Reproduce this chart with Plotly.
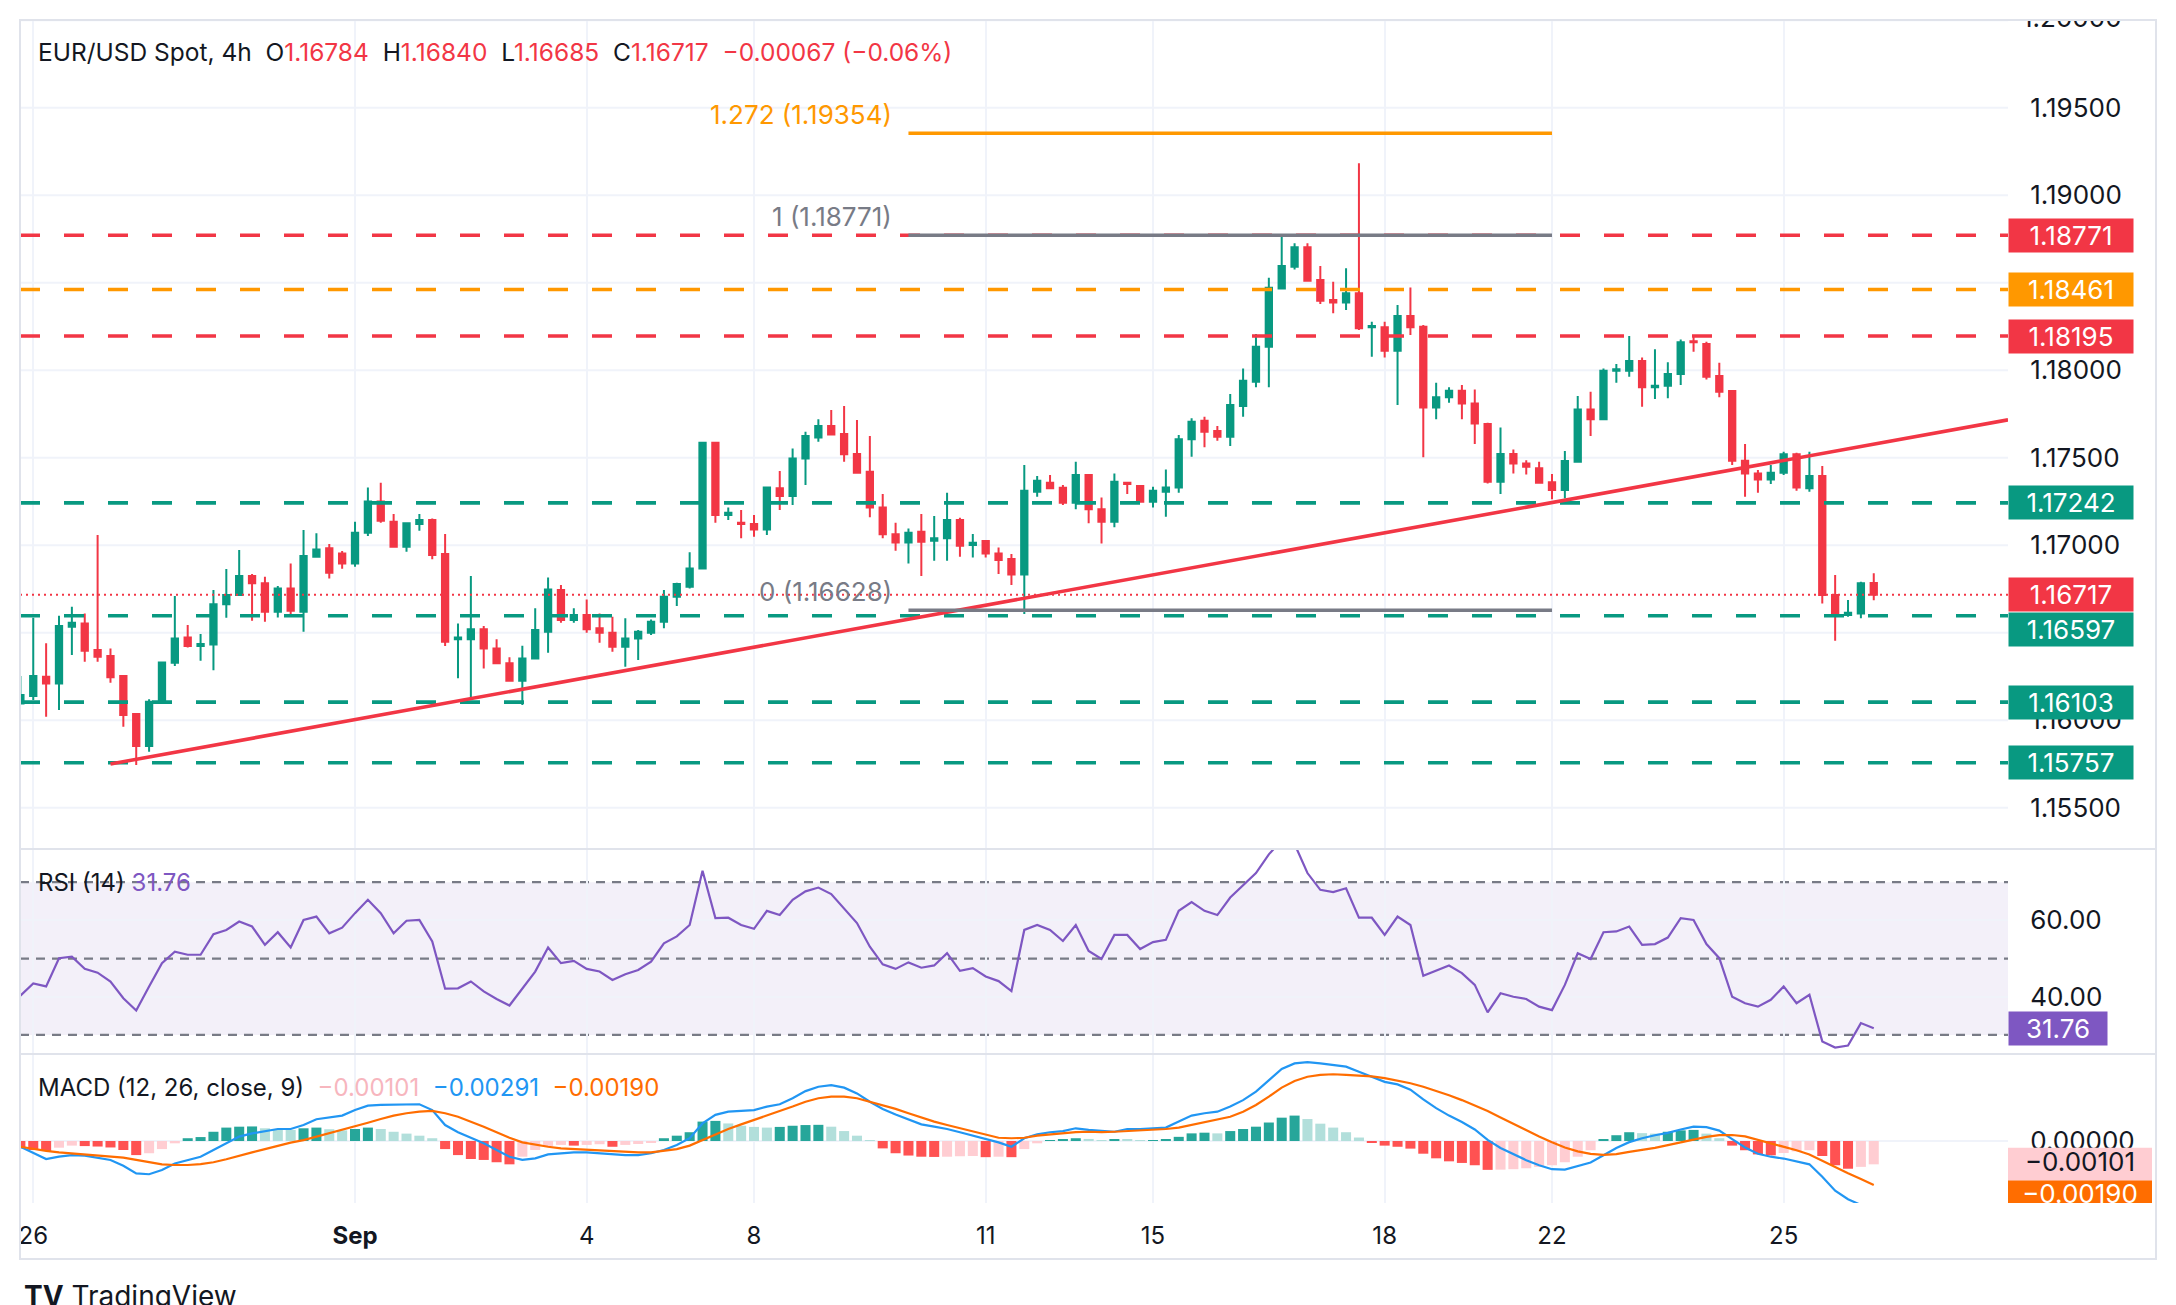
import plotly.graph_objects as go
from datetime import datetime, timedelta

# ----------------------------------------------------------------- data
# EUR/USD 4h candles, first bar = 2025-08-25 20:00
opens = [1.16096, 1.16138, 1.16248, 1.16210, 1.16534, 1.16553, 1.16401, 1.16367, 1.16252, 1.16035,
         1.15852, 1.16100, 1.16328, 1.16473, 1.16424, 1.16433, 1.16662, 1.16715, 1.16824, 1.16782,
         1.16620, 1.16753, 1.16620, 1.16934, 1.16982, 1.16953, 1.16896, 1.17071, 1.17249, 1.17134,
         1.16991, 1.17121, 1.17144, 1.16949, 1.16462, 1.16462, 1.16519, 1.16410, 1.16325, 1.16226,
         1.16353, 1.16506, 1.16744, 1.16572, 1.16601, 1.16525, 1.16500, 1.16420, 1.16467, 1.16500,
         1.16563, 1.16706, 1.16763, 1.16867, 1.17586, 1.17172, 1.17128, 1.17121, 1.17090, 1.17325,
         1.17281, 1.17496, 1.17616, 1.17681, 1.17635, 1.17521, 1.17420, 1.17216, 1.17062, 1.17016,
         1.17077, 1.17026, 1.17039, 1.17144, 1.17001, 1.17024, 1.16953, 1.16921, 1.16833, 1.17306,
         1.17357, 1.17328, 1.17243, 1.17401, 1.17205, 1.17134, 1.17357, 1.17338, 1.17248, 1.17306,
         1.17330, 1.17605, 1.17711, 1.17652, 1.17620, 1.17795, 1.17934, 1.18134, 1.18467, 1.18591,
         1.18702, 1.18515, 1.18401, 1.18387, 1.18439, 1.18245, 1.18245, 1.18111, 1.18309, 1.18248,
         1.17787, 1.17845, 1.17883, 1.17810, 1.17692, 1.17363, 1.17521, 1.17467, 1.17439, 1.17359,
         1.17315, 1.17477, 1.17776, 1.17719, 1.17997, 1.17997, 1.18052, 1.17902, 1.17911, 1.17978,
         1.18166, 1.18149, 1.17967, 1.17881, 1.17483, 1.17410, 1.17376, 1.17414, 1.17519, 1.17325,
         1.17395, 1.16715, 1.16601, 1.16610, 1.16784]
highs = [1.16252, 1.16586, 1.16439, 1.16597, 1.16648, 1.16610, 1.17058, 1.16410, 1.16255, 1.16040,
         1.16119, 1.16335, 1.16709, 1.16544, 1.16492, 1.16744, 1.16864, 1.16972, 1.16835, 1.16820,
         1.16767, 1.16896, 1.17087, 1.17068, 1.17007, 1.16967, 1.17134, 1.17330, 1.17357, 1.17178,
         1.17125, 1.17178, 1.17153, 1.17064, 1.16553, 1.16824, 1.16538, 1.16462, 1.16359, 1.16426,
         1.16639, 1.16816, 1.16772, 1.16639, 1.16690, 1.16610, 1.16591, 1.16582, 1.16515, 1.16576,
         1.16744, 1.16786, 1.16959, 1.17590, 1.17590, 1.17216, 1.17201, 1.17172, 1.17335, 1.17424,
         1.17553, 1.17648, 1.17719, 1.17772, 1.17795, 1.17715, 1.17624, 1.17292, 1.17128, 1.17096,
         1.17178, 1.17167, 1.17300, 1.17157, 1.17064, 1.17028, 1.16987, 1.16949, 1.17458, 1.17395,
         1.17401, 1.17344, 1.17477, 1.17407, 1.17273, 1.17410, 1.17360, 1.17344, 1.17334, 1.17433,
         1.17629, 1.17725, 1.17734, 1.17681, 1.17864, 1.18010, 1.18207, 1.18528, 1.18778, 1.18725,
         1.18725, 1.18595, 1.18505, 1.18582, 1.19182, 1.18277, 1.18277, 1.18372, 1.18473, 1.18258,
         1.17928, 1.17902, 1.17915, 1.17890, 1.17700, 1.17673, 1.17547, 1.17486, 1.17477, 1.17407,
         1.17538, 1.17852, 1.17877, 1.18010, 1.18035, 1.18195, 1.18073, 1.18119, 1.18045, 1.18176,
         1.18201, 1.18163, 1.18043, 1.17885, 1.17578, 1.17429, 1.17458, 1.17534, 1.17528, 1.17534,
         1.17452, 1.16829, 1.16687, 1.16791, 1.16840]
lows = [1.16090, 1.16115, 1.16020, 1.16058, 1.16372, 1.16334, 1.16334, 1.16214, 1.15963, 1.15744,
        1.15820, 1.16095, 1.16309, 1.16416, 1.16340, 1.16286, 1.16586, 1.16710, 1.16568, 1.16563,
        1.16587, 1.16607, 1.16506, 1.16930, 1.16810, 1.16866, 1.16877, 1.17052, 1.17128, 1.16985,
        1.16963, 1.17083, 1.16919, 1.16424, 1.16239, 1.16125, 1.16296, 1.16320, 1.16220, 1.16087,
        1.16350, 1.16386, 1.16557, 1.16557, 1.16500, 1.16443, 1.16391, 1.16306, 1.16344, 1.16487,
        1.16525, 1.16652, 1.16753, 1.16862, 1.17128, 1.17144, 1.17039, 1.17048, 1.17058, 1.17201,
        1.17229, 1.17344, 1.17591, 1.17630, 1.17477, 1.17410, 1.17159, 1.17039, 1.16968, 1.16896,
        1.16824, 1.16911, 1.16911, 1.16934, 1.16930, 1.16930, 1.16835, 1.16772, 1.16607, 1.17277,
        1.17320, 1.17229, 1.17205, 1.17125, 1.17010, 1.17102, 1.17292, 1.17243, 1.17216, 1.17163,
        1.17300, 1.17506, 1.17559, 1.17597, 1.17567, 1.17734, 1.17902, 1.17902, 1.18462, 1.18576,
        1.18505, 1.18378, 1.18325, 1.18344, 1.18229, 1.18077, 1.18073, 1.17801, 1.18201, 1.17502,
        1.17719, 1.17814, 1.17719, 1.17578, 1.17353, 1.17292, 1.17410, 1.17404, 1.17353, 1.17262,
        1.17267, 1.17471, 1.17624, 1.17715, 1.17928, 1.17963, 1.17791, 1.17835, 1.17839, 1.17915,
        1.18106, 1.17947, 1.17845, 1.17458, 1.17277, 1.17300, 1.17349, 1.17401, 1.17311, 1.17306,
        1.16667, 1.16454, 1.16591, 1.16582, 1.16685]
closes = [1.16144, 1.16252, 1.16210, 1.16538, 1.16557, 1.16397, 1.16363, 1.16245, 1.16029, 1.15852,
          1.16106, 1.16330, 1.16467, 1.16424, 1.16435, 1.16662, 1.16715, 1.16824, 1.16782, 1.16620,
          1.16753, 1.16626, 1.16938, 1.16976, 1.16843, 1.16896, 1.17071, 1.17249, 1.17140, 1.16991,
          1.17125, 1.17144, 1.16944, 1.16448, 1.16473, 1.16519, 1.16410, 1.16325, 1.16226, 1.16353,
          1.16515, 1.16747, 1.16572, 1.16601, 1.16519, 1.16500, 1.16420, 1.16467, 1.16506, 1.16563,
          1.16706, 1.16778, 1.16867, 1.17586, 1.17172, 1.17186, 1.17121, 1.17090, 1.17330, 1.17281,
          1.17496, 1.17624, 1.17681, 1.17633, 1.17519, 1.17414, 1.17216, 1.17062, 1.17016, 1.17071,
          1.17020, 1.17039, 1.17144, 1.16997, 1.17014, 1.16953, 1.16915, 1.16833, 1.17311, 1.17368,
          1.17325, 1.17243, 1.17401, 1.17205, 1.17134, 1.17363, 1.17349, 1.17248, 1.17311, 1.17330,
          1.17605, 1.17706, 1.17648, 1.17620, 1.17801, 1.17940, 1.18134, 1.18471, 1.18595, 1.18702,
          1.18511, 1.18397, 1.18387, 1.18439, 1.18239, 1.18252, 1.18111, 1.18309, 1.18245, 1.17787,
          1.17845, 1.17883, 1.17810, 1.17696, 1.17363, 1.17521, 1.17467, 1.17448, 1.17357, 1.17315,
          1.17481, 1.17776, 1.17719, 1.17997, 1.18005, 1.18052, 1.17902, 1.17911, 1.17978, 1.18159,
          1.18159, 1.17963, 1.17877, 1.17483, 1.17410, 1.17376, 1.17414, 1.17519, 1.17330, 1.17395,
          1.16715, 1.16601, 1.16614, 1.16782, 1.16717]

rsi_values = [40.3, 43.5, 42.7, 50.1, 50.5, 47.3, 46.3, 44.0, 39.6, 36.4,
              42.7, 48.8, 51.8, 51.0, 51.0, 56.4, 57.5, 59.7, 58.4, 53.6,
              56.9, 52.9, 60.1, 61.0, 56.6, 58.1, 61.9, 65.4, 61.9, 56.6,
              59.9, 60.1, 54.5, 42.1, 42.2, 44.0, 41.4, 39.4, 37.7, 42.2,
              46.6, 52.9, 48.8, 49.4, 47.3, 46.6, 44.4, 45.9, 47.0, 49.2,
              54.0, 55.8, 58.8, 73.0, 60.6, 60.7, 58.8, 57.8, 62.5, 61.4,
              65.4, 67.6, 68.6, 66.9, 63.2, 59.3, 53.1, 48.5, 47.3, 49.0,
              47.6, 48.2, 51.4, 46.8, 47.5, 45.3, 44.1, 41.5, 57.5, 58.8,
              57.5, 54.6, 58.8, 52.0, 49.9, 56.2, 56.2, 52.5, 54.3, 54.9,
              62.5, 64.8, 62.5, 61.4, 66.0, 69.3, 72.4, 77.3, 81.0, 80.0,
              72.4, 68.0, 67.4, 68.4, 60.7, 60.7, 56.2, 61.0, 58.8, 45.5,
              46.8, 48.2, 46.2, 43.1, 35.9, 40.9, 40.0, 39.4, 37.4, 36.5,
              43.1, 51.4, 49.9, 56.9, 57.1, 58.4, 53.6, 53.8, 55.5, 60.6,
              60.1, 53.8, 50.1, 40.0, 38.3, 37.4, 39.2, 42.7, 38.3, 40.5,
              28.3, 26.7, 27.2, 33.1, 31.76]

macd_values = [-0.00025, -0.00053, -0.00078, -0.00068, -0.00061, -0.00063, -0.00072, -0.00082, -0.00107, -0.00140,
               -0.00144, -0.00126, -0.00097, -0.00082, -0.00068, -0.00039, -0.00010, 0.00019, 0.00033, 0.00043,
               0.00052, 0.00052, 0.00069, 0.00094, 0.00101, 0.00110, 0.00134, 0.00153, 0.00156, 0.00156,
               0.00159, 0.00159, 0.00134, 0.00069, 0.00038, 0.00014, -0.00010, -0.00039, -0.00068, -0.00082,
               -0.00075, -0.00058, -0.00053, -0.00049, -0.00049, -0.00053, -0.00058, -0.00061, -0.00061, -0.00053,
               -0.00039, -0.00017, 0.00012, 0.00076, 0.00113, 0.00127, 0.00130, 0.00134, 0.00149, 0.00159,
               0.00185, 0.00216, 0.00235, 0.00242, 0.00231, 0.00206, 0.00170, 0.00139, 0.00115, 0.00095,
               0.00072, 0.00062, 0.00052, 0.00038, 0.00023, 0.00009, -0.00006, -0.00025, 0.00012, 0.00029,
               0.00038, 0.00043, 0.00055, 0.00048, 0.00043, 0.00040, 0.00052, 0.00051, 0.00055, 0.00058,
               0.00084, 0.00110, 0.00120, 0.00127, 0.00149, 0.00177, 0.00214, 0.00264, 0.00312, 0.00336,
               0.00341, 0.00336, 0.00329, 0.00322, 0.00300, 0.00278, 0.00256, 0.00245, 0.00222, 0.00180,
               0.00142, 0.00110, 0.00082, 0.00050, 0.00005, -0.00030, -0.00058, -0.00083, -0.00105, -0.00122,
               -0.00124, -0.00110, -0.00093, -0.00062, -0.00030, -0.00005, 0.00012, 0.00025, 0.00035, 0.00050,
               0.00062, 0.00060, 0.00045, 0.00008, -0.00028, -0.00055, -0.00068, -0.00076, -0.00088, -0.00101,
               -0.00155, -0.00215, -0.00252, -0.00277, -0.00291]
signal_values = [-0.00025, -0.00035, -0.00043, -0.00049, -0.00053, -0.00058, -0.00061, -0.00065, -0.00072, -0.00082,
                 -0.00092, -0.00101, -0.00104, -0.00104, -0.00100, -0.00092, -0.00079, -0.00063, -0.00049, -0.00035,
                 -0.00020, -0.00007, 0.00004, 0.00019, 0.00032, 0.00046, 0.00062, 0.00079, 0.00095, 0.00110,
                 0.00120, 0.00127, 0.00130, 0.00120, 0.00105, 0.00084, 0.00062, 0.00038, 0.00014, -0.00006,
                 -0.00017, -0.00025, -0.00032, -0.00035, -0.00039, -0.00043, -0.00046, -0.00049, -0.00049, -0.00049,
                 -0.00043, -0.00035, -0.00020, 0.00004, 0.00029, 0.00052, 0.00072, 0.00091, 0.00110, 0.00127,
                 0.00149, 0.00170, 0.00185, 0.00192, 0.00192, 0.00185, 0.00170, 0.00156, 0.00139, 0.00120,
                 0.00101, 0.00084, 0.00069, 0.00055, 0.00040, 0.00026, 0.00014, 0.00012, 0.00014, 0.00023,
                 0.00029, 0.00033, 0.00038, 0.00040, 0.00038, 0.00040, 0.00043, 0.00045, 0.00048, 0.00052,
                 0.00058, 0.00069, 0.00081, 0.00091, 0.00105, 0.00127, 0.00156, 0.00192, 0.00231, 0.00260,
                 0.00278, 0.00286, 0.00289, 0.00286, 0.00283, 0.00280, 0.00272, 0.00262, 0.00250, 0.00235,
                 0.00217, 0.00198, 0.00177, 0.00155, 0.00130, 0.00102, 0.00074, 0.00046, 0.00020, -0.00005,
                 -0.00028, -0.00045, -0.00056, -0.00060, -0.00057, -0.00047, -0.00040, -0.00030, -0.00018, -0.00006,
                 0.00008, 0.00018, 0.00025, 0.00026, 0.00020, 0.00005, -0.00008, -0.00022, -0.00040, -0.00058,
                 -0.00085, -0.00115, -0.00140, -0.00165, -0.00190]
hist_values = [-0.00032, -0.00039, -0.00043, -0.00029, -0.00020, -0.00022, -0.00024, -0.00028, -0.00039, -0.00061,
               -0.00053, -0.00035, -0.00010, 0.00012, 0.00017, 0.00040, 0.00058, 0.00062, 0.00063, 0.00055,
               0.00052, 0.00048, 0.00055, 0.00058, 0.00051, 0.00046, 0.00052, 0.00058, 0.00052, 0.00040,
               0.00032, 0.00023, 0.00012, -0.00035, -0.00061, -0.00078, -0.00082, -0.00092, -0.00101, -0.00068,
               -0.00039, -0.00022, -0.00017, -0.00020, -0.00017, -0.00014, -0.00025, -0.00017, -0.00013, -0.00007,
               0.00012, 0.00023, 0.00038, 0.00084, 0.00087, 0.00076, 0.00066, 0.00061, 0.00058, 0.00061,
               0.00066, 0.00069, 0.00070, 0.00062, 0.00043, 0.00023, 0.00003, -0.00032, -0.00053, -0.00063,
               -0.00068, -0.00069, -0.00068, -0.00066, -0.00065, -0.00070, -0.00068, -0.00070, -0.00035, -0.00010,
               0.00004, 0.00007, 0.00012, 0.00009, 0.00003, 0.00008, 0.00005, 0.00004, 0.00004, 0.00007,
               0.00018, 0.00033, 0.00036, 0.00033, 0.00043, 0.00052, 0.00062, 0.00080, 0.00101, 0.00110,
               0.00095, 0.00075, 0.00058, 0.00038, 0.00015, -0.00008, -0.00020, -0.00025, -0.00033, -0.00055,
               -0.00075, -0.00088, -0.00095, -0.00105, -0.00125, -0.00124, -0.00122, -0.00118, -0.00112, -0.00105,
               -0.00092, -0.00068, -0.00040, 0.00005, 0.00025, 0.00038, 0.00034, 0.00032, 0.00040, 0.00046,
               0.00048, 0.00032, 0.00012, -0.00020, -0.00040, -0.00058, -0.00062, -0.00052, -0.00045, -0.00040,
               -0.00065, -0.00105, -0.00120, -0.00112, -0.00101]

day_tick_times = ["2025-08-26 00:00", "2025-09-01 00:00", "2025-09-04 00:00", "2025-09-08 00:00",
                  "2025-09-11 00:00", "2025-09-15 00:00", "2025-09-18 00:00", "2025-09-22 00:00",
                  "2025-09-25 00:00"]
day_tick_labels = ["26", "<b>Sep</b>", "4", "8", "11", "15", "18", "22", "25"]

price_ticks = [1.155, 1.160, 1.165, 1.170, 1.175, 1.180, 1.185, 1.190, 1.195]
price_tick_labels = ["1.15500", "1.16000", "1.16500", "1.17000", "1.17500",
                     "1.18000", "1.18500", "1.19000", "1.19500"]
top_price_tick = 1.200
top_price_label = "1.20000"
rsi_ticks = [40, 60]
rsi_tick_labels = ["40.00", "60.00"]
rsi_band_levels = [30, 50, 70]
macd_ticks = [0.0]
macd_tick_labels = ["0.00000"]

level_prices = [1.18771, 1.18461, 1.18195, 1.17242, 1.16597, 1.16103, 1.15757]
level_roles = ["resistance", "pivot", "resistance", "support", "support", "support", "support"]

fib_ratio_labels = ["0", "1", "1.272"]
fib_prices = [1.16628, 1.18771, 1.19354]
fib_times = ["2025-09-10 00:00", "2025-09-22 00:00"]

trend_times = ["2025-08-27 00:00", "2025-09-25 12:00"]
trend_prices = [1.15750, 1.17524]

legend_symbol = "EUR/USD Spot, 4h"
legend_change = "\u22120.00067 (\u22120.06%)"

# ----------------------------------------------------------------- style
W, H = 2176, 1305
FONT = "Inter, Roboto, sans-serif"
TXT = "#131722"
GREEN = "#089981"
RED = "#F23645"
ORANGE = "#FF9800"
GRAYLINE = "#787B86"
GRID = "#F0F3FA"
FRAME = "#E0E3EB"
PURPLE = "#7E57C2"
MACD_BLUE = "#2196F3"
SIG_ORANGE = "#FF6D00"
H_UP1, H_UP2, H_DN1, H_DN2 = "#26A69A", "#B2DFDB", "#FF5252", "#FFCDD2"
role_color = {"resistance": RED, "pivot": ORANGE, "support": GREEN}
FS = 24        # legends / time scale
FS_AX = 26     # price scales
FS_FIB = 26

PLOT_L, PLOT_R = 20, 2008
MAIN_T, MAIN_B = 20, 849
RSI_B = 1054
MACD_B = 1203
RIGHT_EDGE = 2156
BOTTOM_EDGE = 1259


def px_y(p):
    return 1 - p / H


# bar timestamps (FX 4h session calendar: no Saturday, Sunday only from 20:00)
def session_bars(start, count):
    out, t = [], start
    while len(out) < count:
        wd = t.weekday()
        if not (wd == 5 or (wd == 6 and t.hour < 20)):
            out.append(t.strftime("%Y-%m-%d %H:%M"))
        t += timedelta(hours=4)
    return out


bar_times = session_bars(datetime(2025, 8, 25, 20), len(closes))
pos = {t: i for i, t in enumerate(bar_times)}

XR = [-0.03, 154.43]
main_rng = [1.15264, 1.20001]
rsi_rng = [25.0, 78.7]
macd_rng = [-0.002684, 0.003766]
macd_px = (MACD_B - RSI_B) / (macd_rng[1] - macd_rng[0])

fig = go.Figure()

fig.add_trace(go.Candlestick(
    x=bar_times, open=opens, high=highs, low=lows, close=closes,
    increasing=dict(line=dict(color=GREEN, width=2), fillcolor=GREEN),
    decreasing=dict(line=dict(color=RED, width=2), fillcolor=RED),
    whiskerwidth=0, xaxis="x", yaxis="y", showlegend=False, hoverinfo="skip"))

fig.add_trace(go.Scatter(x=bar_times, y=rsi_values, mode="lines",
                         line=dict(color=PURPLE, width=2.2), xaxis="x2", yaxis="y2",
                         showlegend=False, hoverinfo="skip"))

hist_colors, prev = [], 0.0
for h in hist_values:
    if h >= 0:
        hist_colors.append(H_UP1 if h >= prev else H_UP2)
    else:
        hist_colors.append(H_DN1 if h < prev else H_DN2)
    prev = h

fig.add_trace(go.Bar(x=bar_times, y=hist_values, marker=dict(color=hist_colors, line=dict(width=0)),
                     width=0.78, xaxis="x3", yaxis="y3", showlegend=False, hoverinfo="skip"))
fig.add_trace(go.Scatter(x=bar_times, y=macd_values, mode="lines", line=dict(color=MACD_BLUE, width=2.2),
                         xaxis="x3", yaxis="y3", showlegend=False, hoverinfo="skip"))
fig.add_trace(go.Scatter(x=bar_times, y=signal_values, mode="lines", line=dict(color=SIG_ORANGE, width=2.2),
                         xaxis="x3", yaxis="y3", showlegend=False, hoverinfo="skip"))

# MACD value boxes on the price scale (own clipped subplot x4/y3), x in pixels from plot edge
box_h = 33 / macd_px
macd_boxes = [
    (hist_values[-1], 0, H_DN2, TXT, "\u22120.00101"),
    (signal_values[-1], -12, SIG_ORANGE, "white", "\u22120.00190"),
]
for val, shift, bg, fg, txt in macd_boxes:
    c = val + shift / macd_px
    fig.add_trace(go.Bar(x=[72], y=[box_h], base=[c - box_h / 2], width=[144],
                         marker=dict(color=bg, line=dict(width=0)), xaxis="x4", yaxis="y3",
                         showlegend=False, hoverinfo="skip"))
    fig.add_trace(go.Scatter(x=[72], y=[c], mode="text", text=[txt],
                             textfont=dict(color=fg, size=FS_AX, family=FONT), textposition="middle center",
                             xaxis="x4", yaxis="y3", showlegend=False, hoverinfo="skip"))

# top price label, clipped by the top of the price pane (own subplot x5/y)
fig.add_trace(go.Scatter(x=[14], y=[top_price_tick], mode="text", text=[top_price_label],
                         textfont=dict(color=TXT, size=FS_AX, family=FONT), textposition="middle right",
                         xaxis="x5", yaxis="y", showlegend=False, hoverinfo="skip"))

xcommon = dict(type="category", range=XR, domain=[PLOT_L / W, PLOT_R / W], showgrid=True,
               gridcolor=GRID, gridwidth=2, tickvals=day_tick_times, ticktext=day_tick_labels,
               showline=False, zeroline=False, fixedrange=True, automargin=False)
ycommon = dict(side="right", showline=False, zeroline=False, fixedrange=True, automargin=False,
               gridcolor=GRID, gridwidth=2, ticks="outside", ticklen=16, tickcolor="rgba(0,0,0,0)",
               tickfont=dict(size=FS_AX, color=TXT, family=FONT))

fig.update_layout(
    width=W, height=H, autosize=False, margin=dict(l=0, r=0, t=0, b=0, autoexpand=False),
    paper_bgcolor="white", plot_bgcolor="white", font=dict(family=FONT, color=TXT, size=FS),
    boxgap=0.3, bargap=0.2, barmode="overlay", showlegend=False,
    xaxis=dict(xcommon, anchor="y", showticklabels=False, rangeslider=dict(visible=False)),
    xaxis2=dict(xcommon, anchor="y2", matches="x", showticklabels=False),
    xaxis3=dict(xcommon, anchor="y3", matches="x", showticklabels=True, ticks="outside", ticklen=11,
                tickcolor="rgba(0,0,0,0)", tickfont=dict(size=FS, color=TXT, family=FONT)),
    xaxis4=dict(domain=[PLOT_R / W, 1.0], range=[0, W - PLOT_R], anchor="y3", visible=False,
                fixedrange=True, automargin=False),
    xaxis5=dict(domain=[PLOT_R / W, 1.0], range=[0, W - PLOT_R], anchor="y", visible=False,
                fixedrange=True, automargin=False),
    yaxis=dict(ycommon, anchor="x", domain=[px_y(MAIN_B), px_y(MAIN_T)], range=main_rng,
               tickvals=price_ticks, ticktext=price_tick_labels, showgrid=False),
    yaxis2=dict(ycommon, anchor="x2", domain=[px_y(RSI_B), px_y(MAIN_B)], range=rsi_rng,
                tickvals=rsi_ticks, ticktext=rsi_tick_labels, showgrid=True),
    yaxis3=dict(ycommon, anchor="x3", domain=[px_y(MACD_B), px_y(RSI_B)], range=macd_rng,
                tickvals=macd_ticks, ticktext=macd_tick_labels, showgrid=False),
)

shapes = []
# price grid (drawn only across the chart area)
for p in price_ticks + [top_price_tick]:
    shapes.append(dict(type="line", xref="x domain", yref="y", x0=0, x1=1, y0=p, y1=p,
                       line=dict(color=GRID, width=2), layer="below"))
# RSI band + dashed levels
shapes.append(dict(type="rect", xref="x2 domain", yref="y2", x0=0, x1=1, y0=rsi_band_levels[0],
                   y1=rsi_band_levels[-1], fillcolor="rgba(126,87,194,0.09)", line=dict(width=0),
                   layer="below"))
for lv in rsi_band_levels:
    shapes.append(dict(type="line", xref="x2 domain", yref="y2", x0=0, x1=1, y0=lv, y1=lv,
                       line=dict(color=GRAYLINE, width=2.2, dash="9px,7px"), layer="below"))
# MACD zero grid
shapes.append(dict(type="line", xref="x3 domain", yref="y3", x0=0, x1=1, y0=0, y1=0,
                   line=dict(color=GRID, width=2), layer="below"))
# horizontal support / resistance levels
for p, role in zip(level_prices, level_roles):
    shapes.append(dict(type="line", xref="x domain", yref="y", x0=0, x1=1, y0=p, y1=p,
                       line=dict(color=role_color[role], width=3.6, dash="20px,24px")))
# trend line (extended to the right edge)
t0, t1 = pos[trend_times[0]], pos[trend_times[1]]
slope = (trend_prices[1] - trend_prices[0]) / (t1 - t0)
shapes.append(dict(type="line", xref="x", yref="y", x0=t0, y0=trend_prices[0],
                   x1=XR[1], y1=trend_prices[0] + slope * (XR[1] - t0),
                   line=dict(color=RED, width=3.6)))
# fibonacci extension lines
f0, f1 = pos[fib_times[0]], pos[fib_times[1]]
fib_colors = [GRAYLINE, GRAYLINE, ORANGE]
for p, col in zip(fib_prices, fib_colors):
    shapes.append(dict(type="line", xref="x", yref="y", x0=f0, x1=f1, y0=p, y1=p,
                       line=dict(color=col, width=3.4)))
# last price dotted line
shapes.append(dict(type="line", xref="x domain", yref="y", x0=0, x1=1, y0=closes[-1], y1=closes[-1],
                   line=dict(color=RED, width=2, dash="2px,4px")))
# frame / pane separators
shapes.append(dict(type="rect", xref="paper", yref="paper", x0=PLOT_L / W, x1=RIGHT_EDGE / W,
                   y0=px_y(BOTTOM_EDGE), y1=px_y(MAIN_T), line=dict(color=FRAME, width=2)))
for yy in (MAIN_B, RSI_B):
    shapes.append(dict(type="line", xref="paper", yref="paper", x0=PLOT_L / W, x1=RIGHT_EDGE / W,
                       y0=px_y(yy), y1=px_y(yy), line=dict(color=FRAME, width=2)))
fig.update_layout(shapes=shapes)

ann = []


def span(t, c):
    return "<span style='color:%s'>%s</span>" % (c, t)


ohlc = [("O", opens[-1]), ("H", highs[-1]), ("L", lows[-1]), ("C", closes[-1])]
title = legend_symbol + "  " + "  ".join(k + span("%.5f" % v, RED) for k, v in ohlc) + "  " + span(legend_change, RED)
ann.append(dict(xref="paper", yref="paper", x=36 / W, y=px_y(52), xanchor="left", yanchor="middle",
                text=title, showarrow=False, font=dict(size=24.5, color=TXT, family=FONT)))
ann.append(dict(xref="paper", yref="paper", x=36 / W, y=px_y(882), xanchor="left", yanchor="middle",
                text="RSI (14) " + span("%.2f" % rsi_values[-1], PURPLE), showarrow=False,
                font=dict(size=FS, color=TXT, family=FONT)))
macd_leg = ("MACD (12, 26, close, 9)  " + span("\u22120.00101", "#F7B6BE") + "  "
            + span("\u22120.00291", MACD_BLUE) + "  " + span("\u22120.00190", SIG_ORANGE))
ann.append(dict(xref="paper", yref="paper", x=36 / W, y=px_y(1087), xanchor="left", yanchor="middle",
                text=macd_leg, showarrow=False, font=dict(size=FS, color=TXT, family=FONT)))

# fibonacci labels
for lab, p, col in zip(fib_ratio_labels, fib_prices, fib_colors):
    ann.append(dict(xref="x", yref="y", x=f0, y=p, xanchor="right", yanchor="middle", xshift=-14, yshift=19,
                    text="%s (%.5f)" % (lab, p), showarrow=False, font=dict(size=FS_FIB, color=col, family=FONT)))


def price_box(y, text, bg, fg, yref, width, shift=0):
    return dict(xref="paper", x=PLOT_R / W, xanchor="left", yref=yref, y=y, yanchor="middle", yshift=shift,
                text=text, showarrow=False, bgcolor=bg, borderpad=0, width=width, height=33, align="center",
                font=dict(color=fg, size=FS_AX, family=FONT))


label_shift = {1.16597: -14}
for p, role in zip(level_prices, level_roles):
    ann.append(price_box(p, "%.5f" % p, role_color[role], "white", "y", 124, label_shift.get(p, 0)))
ann.append(price_box(closes[-1], "%.5f" % closes[-1], RED, "white", "y", 124, 0))
ann.append(price_box(rsi_values[-1], "%.2f" % rsi_values[-1], PURPLE, "white", "y2", 98))

# branding
ann.append(dict(xref="paper", yref="paper", x=22 / W, y=px_y(1296), xanchor="left", yanchor="middle",
                text="<b>TV</b> TradingView", showarrow=False, font=dict(size=28, color=TXT, family=FONT)))
fig.update_layout(annotations=ann)

fig.write_html("out.html", config={"displayModeBar": False},
               post_script="document.body.style.margin='0';document.body.style.overflow='hidden';")
